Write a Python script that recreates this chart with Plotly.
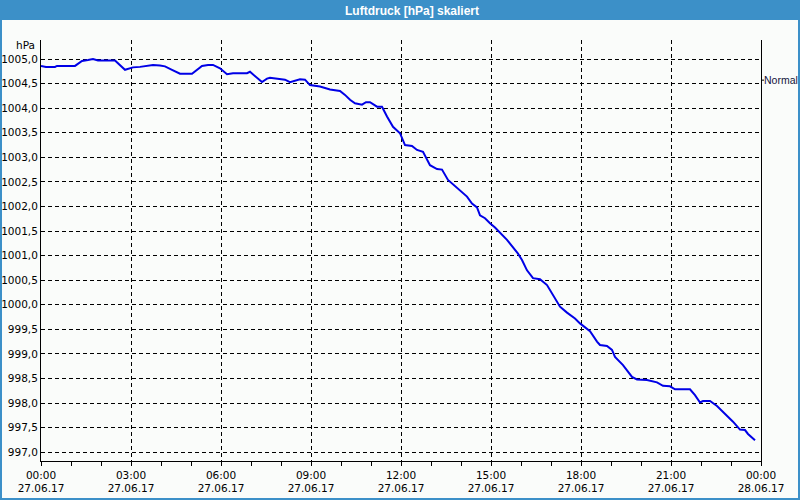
import plotly.graph_objects as go
import pandas as pd

# ---- data ----
times = ["00:00", "00:10", "00:28", "00:32", "01:08", "01:22", "01:34", "01:44", "01:54", "02:28",
         "02:48", "03:04", "03:18", "03:44", "03:58", "04:08", "04:22", "04:38", "05:02", "05:22",
         "05:34", "05:44", "05:58", "06:12", "06:24", "06:52", "06:58", "07:22", "07:32", "07:38",
         "08:08", "08:18", "08:38", "08:48", "08:58", "09:18", "09:38", "09:58", "10:08", "10:18",
         "10:28", "10:42", "10:50", "10:58", "11:12", "11:22", "11:32", "11:44", "11:58", "12:08",
         "12:22", "12:32", "12:44", "12:58", "13:12", "13:22", "13:34", "13:58", "14:12", "14:22",
         "14:32", "14:38", "14:48", "14:58", "15:08", "15:32", "15:54", "16:02", "16:12", "16:24",
         "16:38", "16:52", "16:58", "17:08", "17:18", "17:32", "17:48", "17:58", "18:18", "18:32",
         "18:38", "18:52", "19:02", "19:08", "19:24", "19:42", "19:52", "20:12", "20:32", "20:44",
         "20:58", "21:08", "21:38", "21:48", "21:58", "22:04", "22:18", "22:32", "22:52", "23:04",
         "23:18", "23:28", "23:34", "23:48"]
pressure = [1004.86, 1004.84, 1004.84, 1004.86, 1004.86, 1004.96, 1004.98, 1005.00, 1004.97, 1004.97,
            1004.78, 1004.83, 1004.84, 1004.88, 1004.87, 1004.85, 1004.78, 1004.70, 1004.70, 1004.86,
            1004.88, 1004.88, 1004.81, 1004.69, 1004.71, 1004.71, 1004.74, 1004.53, 1004.60, 1004.62,
            1004.58, 1004.53, 1004.59, 1004.58, 1004.47, 1004.44, 1004.38, 1004.35, 1004.27, 1004.17,
            1004.10, 1004.07, 1004.12, 1004.12, 1004.03, 1004.03, 1003.83, 1003.62, 1003.49, 1003.25,
            1003.23, 1003.15, 1003.11, 1002.84, 1002.76, 1002.75, 1002.54, 1002.33, 1002.20, 1002.06,
            1001.98, 1001.82, 1001.76, 1001.66, 1001.57, 1001.32, 1001.04, 1000.91, 1000.70, 1000.54,
            1000.52, 1000.40, 1000.30, 1000.13, 999.96, 999.84, 999.72, 999.62, 999.46, 999.25,
            999.18, 999.16, 999.08, 998.94, 998.77, 998.53, 998.48, 998.47, 998.42, 998.35,
            998.34, 998.28, 998.28, 998.16, 998.01, 998.04, 998.04, 997.94, 997.75, 997.62,
            997.46, 997.45, 997.37, 997.24]

y_ticks = [997.0, 997.5, 998.0, 998.5, 999.0, 999.5, 1000.0, 1000.5, 1001.0, 1001.5,
           1002.0, 1002.5, 1003.0, 1003.5, 1004.0, 1004.5, 1005.0]
y_ticktext = ["997,0", "997,5", "998,0", "998,5", "999,0", "999,5", "1000,0", "1000,5", "1001,0",
              "1001,5", "1002,0", "1002,5", "1003,0", "1003,5", "1004,0", "1004,5", "1005,0"]
x_ticks = ["2017-06-27 00:00", "2017-06-27 03:00", "2017-06-27 06:00", "2017-06-27 09:00",
           "2017-06-27 12:00", "2017-06-27 15:00", "2017-06-27 18:00", "2017-06-27 21:00",
           "2017-06-28 00:00"]
x_ticktext = ["00:00<br>27.06.17", "03:00<br>27.06.17", "06:00<br>27.06.17", "09:00<br>27.06.17",
              "12:00<br>27.06.17", "15:00<br>27.06.17", "18:00<br>27.06.17", "21:00<br>27.06.17",
              "00:00<br>28.06.17"]
title_text = "Luftdruck [hPa] skaliert"
unit_text = "hPa"
legend_text = "Normal"
legend_value = 1004.57

x = pd.to_datetime(["2017-06-27 " + t for t in times])

W, H = 800, 500
L, R, T, B = 41, 761, 40, 461  # plot area in pixels
BG = "#FAFCFA"
BLUE = "#3C90C8"
FONT = "DejaVu Sans"

fig = go.Figure()
fig.add_trace(go.Scatter(x=x, y=pressure, mode="lines",
                         line=dict(color="#0000E6", width=2), showlegend=False,
                         hoverinfo="skip"))

fig.update_layout(
    width=W, height=H, autosize=False,
    margin=dict(l=0, r=0, t=0, b=0, pad=0, autoexpand=False),
    paper_bgcolor=BG, plot_bgcolor=BG,
    font=dict(family=FONT, size=10.5, color="#000000"),
    showlegend=False,
    xaxis=dict(
        domain=[L / W, R / W],
        range=["2017-06-27 00:00", "2017-06-28 00:00"],
        tickvals=x_ticks, ticktext=x_ticktext,
        showgrid=True, gridcolor="#000000", gridwidth=1, griddash="4px,3px",
        showline=True, linecolor="#000000", linewidth=1, mirror=False,
        ticks="outside", ticklen=4, tickcolor="#000000",
        minor=dict(dtick=3600000, ticks="outside", ticklen=4, tickcolor="#000000", showgrid=False),
        zeroline=False, fixedrange=True, automargin=False,
        tickfont=dict(family=FONT, size=10.5),
    ),
    yaxis=dict(
        domain=[(H - B) / H, (H - T) / H],
        range=[996.82, 1005.387],
        tickvals=y_ticks, ticktext=y_ticktext,
        showgrid=True, gridcolor="#000000", gridwidth=1, griddash="4px,3px",
        showline=True, linecolor="#000000", linewidth=1, mirror=True,
        ticks="", zeroline=False, fixedrange=True, automargin=False,
        tickfont=dict(family=FONT, size=10.5),
    ),
)

shapes = [
    # title bar
    dict(type="rect", xref="paper", yref="paper", x0=0, x1=1, y0=1 - 20 / H, y1=1,
         fillcolor=BLUE, line=dict(width=0), layer="above"),
    # window border
    dict(type="rect", xref="paper", yref="paper", x0=1 / W, x1=1 - 1 / W, y0=1 / H, y1=1,
         fillcolor="rgba(0,0,0,0)", line=dict(color=BLUE, width=2), layer="above"),
    # small tick for legend label
    dict(type="line", xref="paper", yref="y", x0=R / W, x1=(R + 3) / W,
         y0=legend_value, y1=legend_value, line=dict(color="#000000", width=1)),
]
fig.update_layout(shapes=shapes)

fig.add_annotation(text="<b>" + title_text + "</b>", xref="paper", yref="paper", x=411.5 / W, y=1 - 10.5 / H,
                   showarrow=False, xanchor="center", yanchor="middle",
                   font=dict(family="Liberation Sans", size=12, color="#FFFFFF"))
fig.add_annotation(text=unit_text, xref="paper", yref="paper", x=37 / W, y=1 - 45 / H,
                   showarrow=False, xanchor="right", yanchor="middle",
                   font=dict(family=FONT, size=10.5, color="#000000"))
fig.add_annotation(text=legend_text, xref="paper", yref="y", x=(R + 2) / W, y=legend_value,
                   showarrow=False, xanchor="left", yanchor="middle", borderpad=0,
                   font=dict(family="Liberation Sans", size=10.5, color="#14143A"))

fig.write_html("out.html")
